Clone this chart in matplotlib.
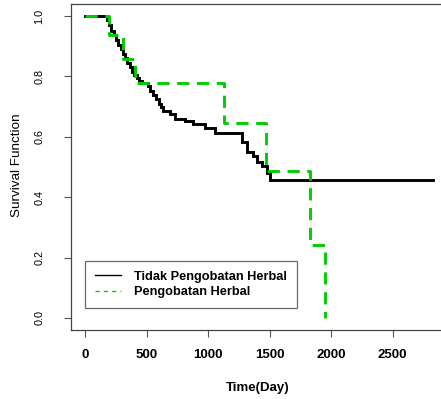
import matplotlib
matplotlib.use("Agg")
import matplotlib.pyplot as plt
from matplotlib.lines import Line2D

plt.rcParams['font.family'] = ['Liberation Sans', 'DejaVu Sans']

# Kaplan-Meier estimates: event times (days) and survival after each step
tidak_time = [0, 176, 195, 215, 232, 250, 271, 290, 310, 325, 345, 365, 380, 400,
              420, 440, 461, 510, 530, 556, 580, 600, 615, 637, 691, 732, 813,
              881, 976, 1057, 1274, 1314, 1369, 1396, 1440, 1480, 1504]
tidak_surv = [1.0, 0.986, 0.972, 0.951, 0.937, 0.922, 0.904, 0.890, 0.874, 0.860,
              0.846, 0.830, 0.816, 0.805, 0.795, 0.786, 0.777, 0.767, 0.753, 0.739,
              0.725, 0.710, 0.700, 0.684, 0.675, 0.658, 0.651, 0.642, 0.629, 0.612,
              0.584, 0.551, 0.535, 0.515, 0.502, 0.480, 0.458]
tidak_end = 2832

herbal_time = [0, 198, 312, 406, 1130, 1469, 1829, 1954]
herbal_surv = [1.0, 0.937, 0.857, 0.777, 0.647, 0.488, 0.243, 0.0]

x_ticks = [0, 500, 1000, 1500, 2000, 2500]
y_ticks = [0.0, 0.2, 0.4, 0.6, 0.8, 1.0]
y_ticklabels = ["0.0", "0.2", "0.4", "0.6", "0.8", "1.0"]

labels = ["Tidak Pengobatan Herbal", "Pengobatan Herbal"]
black = "#000000"
green = "#00CD00"

fig = plt.figure(figsize=(4.41, 3.99), dpi=100)
ax = fig.add_axes([71 / 441, 69 / 399, 378.6 / 441, 326 / 399])

ax.step(tidak_time + [tidak_end], tidak_surv + [tidak_surv[-1]], where="post",
        color=black, lw=2.1, solid_joinstyle="miter")
ax.step(herbal_time, herbal_surv, where="post", color=green, lw=2.1,
        ls=(0, (4.2, 2.6)))

ax.set_xlim(-114, 2964)
ax.set_ylim(-0.04, 1.04)

ax.set_xticks(x_ticks)
ax.set_xticklabels([str(v) for v in x_ticks], fontsize=9.5, fontweight="bold")
ax.set_yticks(y_ticks)
ax.set_yticklabels(y_ticklabels, fontsize=7.8, rotation=90, va="center")
ax.tick_params(axis="both", direction="out", length=5, width=0.8, color="#555555")
ax.tick_params(axis="x", pad=9)
ax.tick_params(axis="y", pad=14)

for s in ax.spines.values():
    s.set_color("#444444")
    s.set_linewidth(0.9)

fig.text(17 / 441, 1 - 165 / 399, "Survival Function", rotation=90,
         ha="center", va="center", fontsize=9.7)
fig.text(258 / 441, 1 - 388 / 399, "Time(Day)", ha="center", va="center",
         fontsize=9.5, fontweight="bold")

handles = [Line2D([], [], color=black, lw=1.0),
           Line2D([], [], color=green, lw=1.0, ls=(0, (3, 3)))]
leg = ax.legend(handles, labels, loc="lower left",
                bbox_to_anchor=(0.037, 0.0666), borderaxespad=0,
                prop={"size": 9.2, "weight": "bold"}, frameon=True,
                fancybox=False, borderpad=0.8, handlelength=2.0,
                handletextpad=1.0, labelspacing=0.25)
leg.get_frame().set_edgecolor("#444444")
leg.get_frame().set_linewidth(0.9)

fig.savefig("out.png", dpi=100)
